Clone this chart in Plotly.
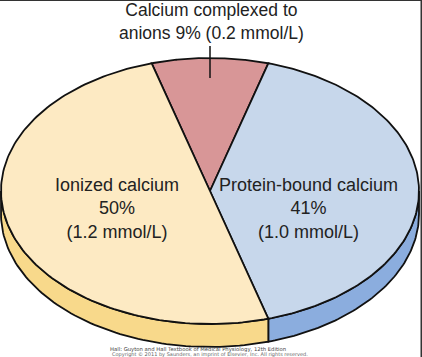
import numpy as np
import plotly.graph_objects as go

# ---- data ----
labels = ["Calcium complexed to anions", "Protein-bound calcium", "Ionized calcium"]
percents = [9, 41, 50]
mmol = [0.2, 1.0, 1.2]
top_colors = ["#d89697", "#c7d7eb", "#fdeac3"]
side_colors = ["#b86f70", "#8badde", "#f8d98b"]

W, H = 422, 357
cx, cy, rx, ry, depth = 210, 191, 209, 133, 23

def pt(theta_deg, dy=0.0):
    t = np.radians(theta_deg)
    return cx + rx * np.cos(t), cy - ry * np.sin(t) + dy

# slice angles (math degrees, clockwise from red slice start)
start = 90 + percents[0] * 3.6 / 2
bounds = []
a = start
for p in percents:
    a2 = a - p * 3.6
    bounds.append((a, a2))
    a = a2

fig = go.Figure()

# side walls (visible lower half: angles in [-180, 0])
for (a1, a2), sc in zip(bounds, side_colors):
    lo, hi = sorted([a1, a2])
    segs = []
    for k in (-360, 0, 360):
        l, h = lo + k, hi + k
        L, Hh = max(l, -180), min(h, 0)
        if L < Hh:
            segs.append((L, Hh))
    for L, Hh in segs:
        th = np.linspace(L, Hh, 80)
        xs_top, ys_top = pt(th)
        xs_bot, ys_bot = pt(th[::-1], depth)
        xs = np.concatenate([xs_top, xs_bot, xs_top[:1]])
        ys = np.concatenate([ys_top, ys_bot, ys_top[:1]])
        fig.add_trace(go.Scatter(x=xs, y=ys, mode="lines", fill="toself",
                                 fillcolor=sc, line=dict(color="#111", width=1.8),
                                 hoverinfo="skip", showlegend=False))

# top faces
for (a1, a2), tc in zip(bounds, top_colors):
    th = np.linspace(a1, a2, 150)
    xa, ya = pt(th)
    xs = np.concatenate([[cx], xa, [cx]])
    ys = np.concatenate([[cy], ya, [cy]])
    fig.add_trace(go.Scatter(x=xs, y=ys, mode="lines", fill="toself",
                             fillcolor=tc, line=dict(color="#111", width=1.8),
                             hoverinfo="skip", showlegend=False))

# leader line for small slice
mid = (bounds[0][0] + bounds[0][1]) / 2
lx, ly = pt(mid)
fig.add_trace(go.Scatter(x=[lx, lx], y=[ly - 12, ly + 20], mode="lines",
                         line=dict(color="#111", width=1.5),
                         hoverinfo="skip", showlegend=False))

font_main = "Liberation Sans, Arial, sans-serif"
top_text = "Calcium complexed to<br>anions %d%% (%.1f mmol/L)" % (percents[0], mmol[0])
anns = [
    dict(x=211, y=21, text=top_text, size=17.5),
    dict(x=117, y=208, text=f"{labels[2]}<br>{percents[2]}%<br>({mmol[2]} mmol/L)", size=18),
    dict(x=308, y=208, text=f"{labels[1]}<br>{percents[1]}%<br>({mmol[1]} mmol/L)", size=18),
]
for a_ in anns:
    fig.add_annotation(x=a_["x"], y=a_["y"], text=a_["text"], showarrow=False,
                       xref="x", yref="y", align="center",
                       font=dict(family=font_main, size=a_["size"], color="#222"))

fig.add_annotation(x=198, y=349, text="Hall: Guyton and Hall Textbook of Medical Physiology, 12th Edition",
                   showarrow=False, xref="x", yref="y",
                   font=dict(family="DejaVu Sans, Verdana, sans-serif", size=5.3, color="#444"))
fig.add_annotation(x=210, y=354.5, text="Copyright © 2011 by Saunders, an imprint of Elsevier, Inc. All rights reserved.",
                   showarrow=False, xref="x", yref="y",
                   font=dict(family="DejaVu Sans, Verdana, sans-serif", size=5.0, color="#666"))

# frame edges (top and right dark lines)
fig.add_shape(type="line", xref="paper", yref="paper", x0=0, x1=1, y0=1, y1=1,
              line=dict(color="#333", width=2))
fig.add_shape(type="line", xref="paper", yref="paper", x0=1, x1=1, y0=0, y1=1,
              line=dict(color="#333", width=3))

fig.update_layout(
    width=W, height=H, margin=dict(l=0, r=0, t=0, b=0),
    paper_bgcolor="white", plot_bgcolor="white",
    xaxis=dict(range=[0, W], visible=False, fixedrange=True),
    yaxis=dict(range=[H, 0], visible=False, fixedrange=True),
    showlegend=False,
)
fig.write_html("out.html", config={"displayModeBar": False},
               post_script="document.body.style.margin='0';document.body.style.overflow='hidden';")
